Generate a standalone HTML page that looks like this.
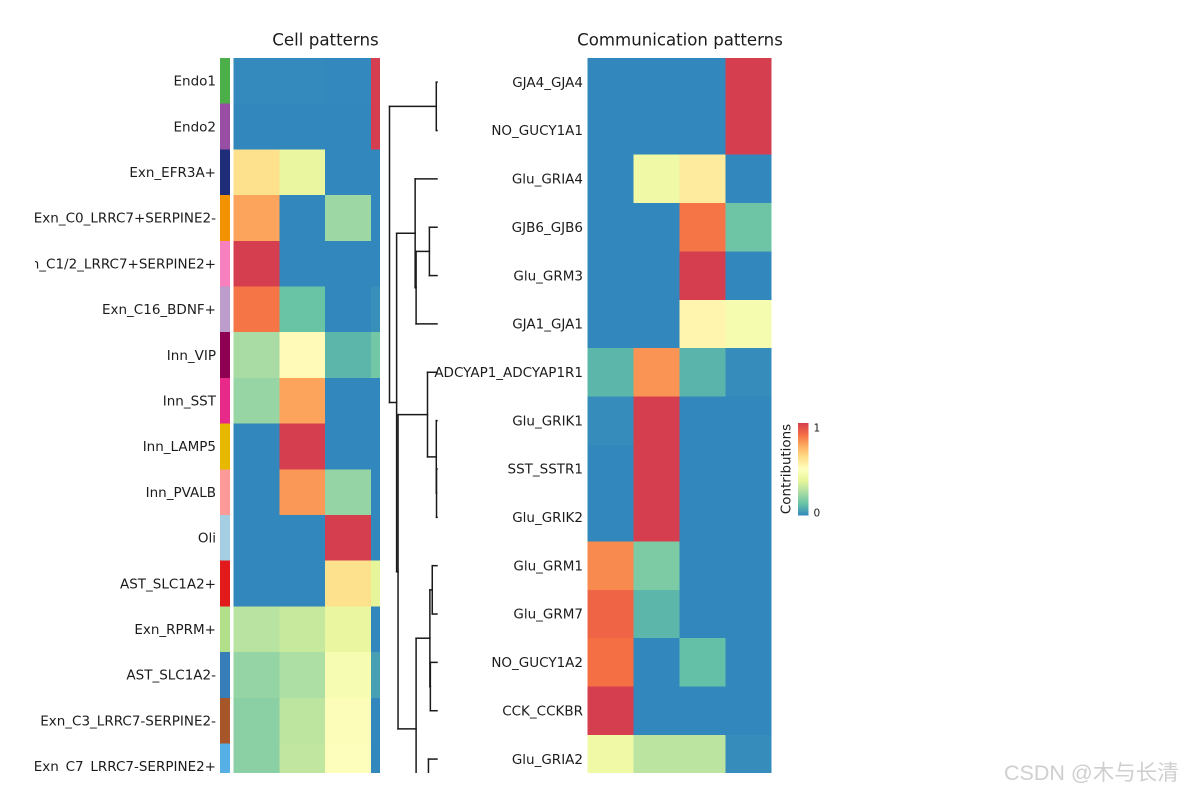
<!DOCTYPE html>
<html lang="en">
<head>
<meta charset="utf-8">
<title>Cell and communication patterns</title>
<style>
html,body{margin:0;padding:0;background:#fff;width:1182px;height:792px;overflow:hidden}
svg{display:block;position:absolute;left:0;top:0}
text{font-family:"DejaVu Sans","Liberation Sans",sans-serif;fill:#1c1c1c}
</style>
</head>
<body>
<svg id="chart" width="1182" height="792" viewBox="0 0 1182 792" xmlns="http://www.w3.org/2000/svg">
  <defs>
    <clipPath id="clip-left-labels"><rect x="35" y="40" width="185" height="733"></rect></clipPath>
    <clipPath id="clip-panels"><rect x="0" y="50" width="1182" height="723"></rect></clipPath>
    <linearGradient id="contrib-gradient" x1="0" y1="1" x2="0" y2="0"></linearGradient>
  </defs>
  <text x="325.5" y="45.5" font-size="16.7" text-anchor="middle">Cell patterns</text>
  <text x="680" y="45.5" font-size="16.6" text-anchor="middle">Communication patterns</text>
  <g id="annotation" clip-path="url(#clip-panels)"></g>
  <g id="left-labels" clip-path="url(#clip-left-labels)"></g>
  <g id="left-heat" clip-path="url(#clip-panels)"></g>
  <g id="dendro" clip-path="url(#clip-panels)"></g>
  <g id="right-labels"></g>
  <g id="right-heat" clip-path="url(#clip-panels)"></g>
  <g>
    <text transform="translate(790.5 469) rotate(-90)" font-size="13.4" text-anchor="middle">Contributions</text>
    <rect x="798" y="423" width="10.5" height="92.5" fill="url(#contrib-gradient)"></rect>
    <text x="813.5" y="431.5" font-size="10.5">1</text>
    <text x="813.5" y="516.5" font-size="10.5">0</text>
  </g>
  <text x="1004" y="780" font-size="21.5" style="font-family:'Liberation Sans','Noto Sans CJK SC',sans-serif;fill:#cfcfcf">CSDN @木与长清</text>
</svg>
<script>
// Colour scale stops (reversed Spectral)
const paletteStops = ['#3288bd','#66c2a5','#abdda4','#e6f598','#ffffbf','#fee08b','#fdae61','#f46d43','#d53e4f'];

// Cell patterns
const cellLabels = ['Endo1','Endo2','Exn_EFR3A+','Exn_C0_LRRC7+SERPINE2-','Exn_C1/2_LRRC7+SERPINE2+','Exn_C16_BDNF+','Inn_VIP','Inn_SST','Inn_LAMP5','Inn_PVALB','Oli','AST_SLC1A2+','Exn_RPRM+','AST_SLC1A2-','Exn_C3_LRRC7-SERPINE2-','Exn_C7_LRRC7-SERPINE2+'];
const cellGroupColors = ['#4daf4a','#984ea3','#1f2d78','#f39200','#f781bf','#bc9dcc','#8e0152','#e7298a','#e6b800','#fb9a99','#a6cee3','#e31a1c','#b2df8a','#377eb8','#a65628','#56b0e6'];
const cellPattern1 = [0.004,0,0.62,0.77,1,0.86,0.245,0.215,0,0,0,0,0.28,0.21,0.19,0.19];
const cellPattern2 = [0.004,0,0.40,0,0,0.13,0.52,0.77,1,0.79,0,0,0.31,0.255,0.29,0.295];
const cellPattern3 = [0.002,0,0,0.225,0,0,0.10,0,0,0.21,1,0.62,0.40,0.46,0.48,0.49];
const cellPattern4 = [1,1,0,0,0,0.015,0.15,0,0,0,0,0.38,0,0.05,0,0];

// Communication patterns
const commLabels = ['GJA4_GJA4','NO_GUCY1A1','Glu_GRIA4','GJB6_GJB6','Glu_GRM3','GJA1_GJA1','ADCYAP1_ADCYAP1R1','Glu_GRIK1','SST_SSTR1','Glu_GRIK2','Glu_GRM1','Glu_GRM7','NO_GUCY1A2','CCK_CCKBR','Glu_GRIA2'];
const commPattern1 = [0,0,0,0,0,0,0.10,0.01,0,0,0.82,0.90,0.87,1,0.42];
const commPattern2 = [0,0,0.42,0,0,0,0.80,1,1,1,0.165,0.10,0,0,0.285];
const commPattern3 = [0,0,0.58,0.86,1,0.54,0.095,0,0,0,0,0,0.12,0,0.285];
const commPattern4 = [1,1,0,0.14,0,0.45,0.01,0,0,0,0,0,0,0,0.01];

// Dendrogram merges: child ids are leaf rows (numbers) or node names; heights are 0..1 of the tree depth
const dendroNames   = ['A','B','D','C','F','G','H','O','P','M','Q','N','L','K','J','root'];
const dendroLeft    = [0,3,'B',2,8,7,6,10,12,'O',16,14,'M','H','C','A'];
const dendroRight   = [1,4,5,'D',9,'F','G',11,13,'P',17,'Q','N','L','K','J'];
const dendroHeights = [0.015,0.16,0.44,0.46,0.01,0.015,0.20,0.10,0.14,0.15,0.05,0.18,0.44,0.82,0.85,1];

const SVGNS = 'http://www.w3.org/2000/svg';
const PANEL_BOTTOM = 773;

function hexToRgb(h){
  return [parseInt(h.slice(1,3),16),parseInt(h.slice(3,5),16),parseInt(h.slice(5,7),16)];
}
function colorOf(v){
  const t = Math.max(0,Math.min(1,v))*(paletteStops.length-1);
  const i = Math.min(Math.floor(t),paletteStops.length-2);
  const f = t-i;
  const a = hexToRgb(paletteStops[i]);
  const b = hexToRgb(paletteStops[i+1]);
  return 'rgb('+a.map((c,k)=>Math.round(c+(b[k]-c)*f)).join(',')+')';
}

// Axis functions
const leftRowY  = r => 58 + 45.7*r;
const leftColX  = c => 233.5 + 45.8*c;
const rightRowY = r => 58 + 48.35*r;
const rightColX = c => 587.5 + 46*c;
const rowCenter = r => rightRowY(r) + 48.35/2;
const heightX   = h => 437 - 47.5*h;

function drawHeat(group, columns, rowY, colX, rowH, colW, maxX, prefix){
  columns.forEach(function(col, c){
    col.forEach(function(v, r){
      const x = colX(c);
      const y = rowY(r);
      const rect = document.createElementNS(SVGNS,'rect');
      
      
      rect.setAttribute('data-cell', prefix+'-r'+r+'-c'+c);
      rect.setAttribute('x', x);
      rect.setAttribute('y', y);
      rect.setAttribute('width', Math.min(colW, maxX-x));
      rect.setAttribute('height', Math.min(rowH+0.3, PANEL_BOTTOM-y));
      rect.setAttribute('fill', colorOf(v));
      rect.setAttribute('shape-rendering', 'crispEdges');
      group.appendChild(rect);
    });
  });
}

function drawLabels(group, labels, rowY, rowH, x){
  labels.forEach(function(label, r){
    const t = document.createElementNS(SVGNS,'text');
    
    
    t.setAttribute('x', x);
    t.setAttribute('y', rowY(r)+rowH/2+4.7);
    t.setAttribute('font-size', '13.5');
    t.setAttribute('text-anchor', 'end');
    t.textContent = label;
    group.appendChild(t);
  });
}

drawHeat(document.getElementById('left-heat'), [cellPattern1,cellPattern2,cellPattern3,cellPattern4], leftRowY, leftColX, 45.7, 45.8, 380, 'cell');
drawHeat(document.getElementById('right-heat'), [commPattern1,commPattern2,commPattern3,commPattern4], rightRowY, rightColX, 48.35, 46, 771.5, 'comm');
drawLabels(document.getElementById('left-labels'), cellLabels, leftRowY, 45.7, 216);
drawLabels(document.getElementById('right-labels'), commLabels, rightRowY, 48.35, 583);

cellGroupColors.forEach(function(color, r){
  const y = leftRowY(r);
  const rect = document.createElementNS(SVGNS,'rect');
  
  
  rect.setAttribute('x', 220);
  rect.setAttribute('y', y);
  rect.setAttribute('width', 10);
  rect.setAttribute('height', Math.min(46, PANEL_BOTTOM-y));
  rect.setAttribute('fill', color);
  rect.setAttribute('shape-rendering', 'crispEdges');
  document.getElementById('annotation').appendChild(rect);
});

paletteStops.forEach(function(color, i){
  const stop = document.createElementNS(SVGNS,'stop');
  stop.setAttribute('offset', i/(paletteStops.length-1));
  stop.setAttribute('stop-color', color);
  document.getElementById('contrib-gradient').appendChild(stop);
});

// Dendrogram from merge arrays; branches below the panel edge are cut off
const nodePos = {};
function childPos(id){
  return typeof id === 'number' ? {x:heightX(0), y:rowCenter(id)} : nodePos[id];
}
function addLine(x1,y1,x2,y2){
  if (y1 > PANEL_BOTTOM && y2 > PANEL_BOTTOM) return;
  const l = document.createElementNS(SVGNS,'line');
  
  
  l.setAttribute('x1', x1);
  l.setAttribute('y1', Math.min(y1, PANEL_BOTTOM));
  l.setAttribute('x2', x2);
  l.setAttribute('y2', Math.min(y2, PANEL_BOTTOM));
  l.setAttribute('stroke', '#1a1a1a');
  l.setAttribute('stroke-width', '1.5');
  l.setAttribute('stroke-linecap', 'square');
  document.getElementById('dendro').appendChild(l);
}
dendroNames.forEach(function(name, i){
  const a = childPos(dendroLeft[i]);
  const b = childPos(dendroRight[i]);
  const x = heightX(dendroHeights[i]);
  addLine(x,a.y,x,b.y);
  addLine(x,a.y,a.x,a.y);
  addLine(x,b.y,b.x,b.y);
  nodePos[name] = {x:x, y:(a.y+b.y)/2};
});
</script>
</body>
</html>
